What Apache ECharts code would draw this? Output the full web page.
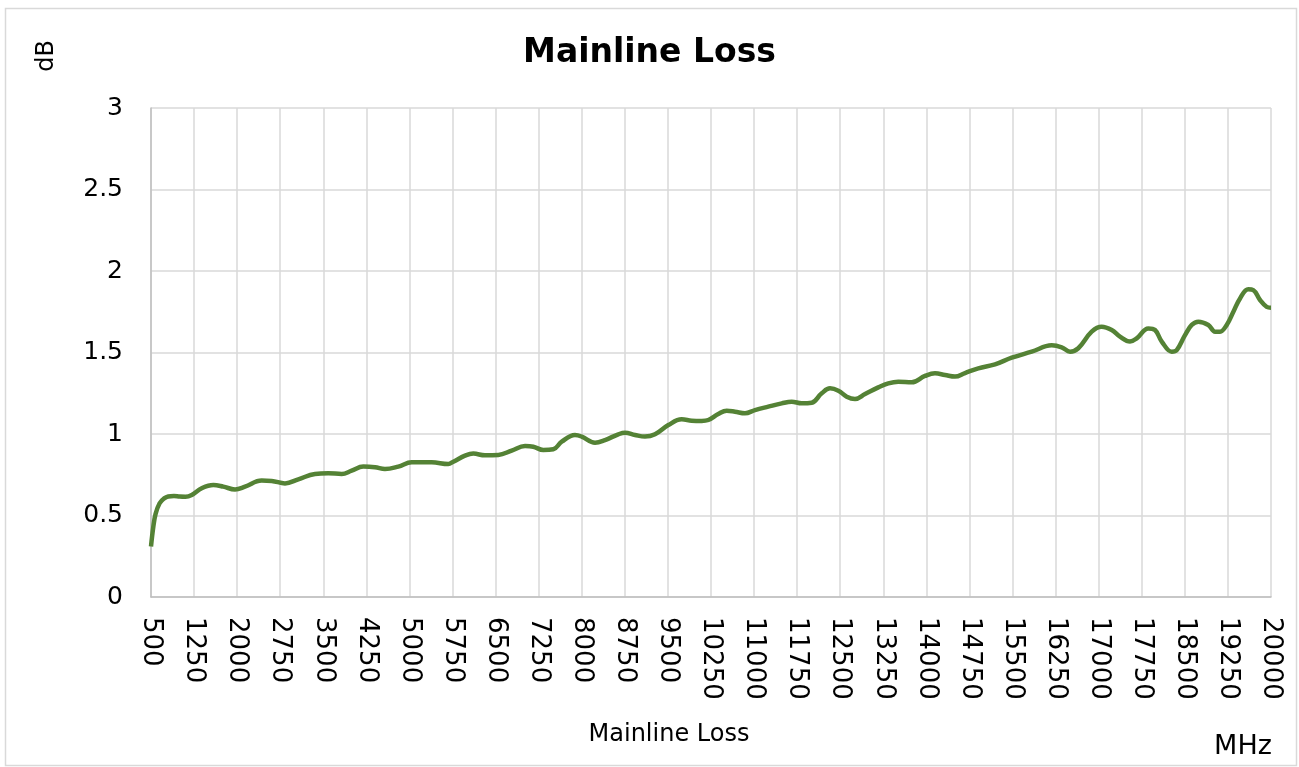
<!DOCTYPE html>
<html>
<head>
<meta charset="utf-8">
<script src="https://cdn.jsdelivr.net/npm/echarts@6/dist/echarts.min.js"></script>
<style>
html,body{margin:0;padding:0;background:#fff;}
#chart{width:1299px;height:767px;}
</style>
</head>
<body>
<div id="chart"></div>
<script>
const chartTitle = 'Mainline Loss';
const xAxisName = 'Mainline Loss';
const xUnit = 'MHz';
const yUnit = 'dB';

const freqMHz = [500, 540, 580, 650, 730, 800, 900, 1000, 1100, 1209, 1383, 1585, 1759, 1963, 2137, 2427, 2602, 2833, 3065, 3355, 3587, 3820, 3994, 4196, 4400, 4574, 4806, 5039, 5213, 5387, 5676, 5763, 5967, 6112, 6315, 6547, 6780, 7012, 7156, 7330, 7504, 7651, 7882, 7999, 8231, 8405, 8636, 8753, 8927, 9100, 9275, 9507, 9740, 9914, 10088, 10203, 10377, 10524, 10668, 10842, 11016, 11248, 11481, 11655, 11829, 12003, 12178, 12322, 12467, 12613, 12757, 12932, 13163, 13337, 13511, 13745, 13976, 14150, 14324, 14498, 14673, 14904, 15195, 15486, 15834, 16182, 16356, 16501, 16645, 16878, 17052, 17227, 17371, 17545, 17662, 17864, 17981, 18098, 18272, 18359, 18503, 18620, 18735, 18909, 19026, 19113, 19229, 19345, 19461, 19605, 19692, 19809, 19925, 20000];
const lossDB = [0.31, 0.43, 0.51, 0.575, 0.605, 0.617, 0.62, 0.616, 0.615, 0.626, 0.667, 0.687, 0.677, 0.66, 0.677, 0.714, 0.712, 0.697, 0.722, 0.755, 0.759, 0.755, 0.775, 0.8, 0.796, 0.785, 0.8, 0.826, 0.826, 0.826, 0.816, 0.83, 0.867, 0.88, 0.869, 0.871, 0.898, 0.926, 0.922, 0.902, 0.906, 0.953, 0.994, 0.984, 0.947, 0.963, 0.998, 1.008, 0.994, 0.984, 0.998, 1.055, 1.09, 1.082, 1.08, 1.086, 1.123, 1.143, 1.137, 1.127, 1.147, 1.168, 1.188, 1.198, 1.188, 1.192, 1.25, 1.28, 1.266, 1.229, 1.215, 1.245, 1.286, 1.311, 1.321, 1.317, 1.356, 1.372, 1.362, 1.352, 1.374, 1.403, 1.427, 1.468, 1.505, 1.544, 1.532, 1.505, 1.526, 1.628, 1.658, 1.638, 1.597, 1.567, 1.587, 1.648, 1.638, 1.567, 1.505, 1.515, 1.607, 1.669, 1.689, 1.669, 1.628, 1.628, 1.669, 1.75, 1.832, 1.888, 1.883, 1.822, 1.78, 1.775];

const xMin = 500, xMax = 20000, xStep = 750;
const yMin = 0, yMax = 3, yStep = 0.5;

const FONT = 'DejaVu Sans';
const seriesData = freqMHz.map((f, i) => [f, lossDB[i]]);

const chart = echarts.init(document.getElementById('chart'), null, {renderer: 'canvas'});
chart.setOption({
  animation: false,
  backgroundColor: '#ffffff',
  title: {
    text: chartTitle,
    left: 'center',
    top: 32,
    textStyle: {fontFamily: FONT, fontSize: 33, fontWeight: 'bold', color: '#000'}
  },
  grid: {left: 151, right: 28, top: 108, bottom: 170, containLabel: false},
  xAxis: {
    type: 'value',
    min: xMin, max: xMax, interval: xStep,
    axisLine: {show: true, lineStyle: {color: '#bfbfbf', width: 1.5}},
    axisTick: {show: false},
    splitLine: {show: true, lineStyle: {color: '#d9d9d9', width: 1.5}},
    axisLabel: {
      rotate: -90, margin: 20, color: '#000',
      fontFamily: FONT, fontSize: 26,
      showMinLabel: true, showMaxLabel: true,
      formatter: v => String(v)
    }
  },
  yAxis: {
    type: 'value',
    min: yMin, max: yMax, interval: yStep,
    axisLine: {show: true, lineStyle: {color: '#bfbfbf', width: 1.5}},
    axisTick: {show: false},
    splitLine: {show: true, lineStyle: {color: '#d9d9d9', width: 1.5}},
    axisLabel: {margin: 28, color: '#000', fontFamily: FONT, fontSize: 25}
  },
  series: [{
    type: 'line',
    data: seriesData,
    showSymbol: false,
    smooth: 0.4,
    lineStyle: {color: '#548235', width: 4.5},
    itemStyle: {color: '#548235'},
    z: 5
  }],
  graphic: [
    {type: 'rect', shape: {x: 5.5, y: 8.5, width: 1291, height: 757}, style: {fill: null, stroke: '#d9d9d9', lineWidth: 1.5}, silent: true, z: -10},
    {type: 'text', x: 47, y: 56, rotation: Math.PI / 2, style: {text: yUnit, fontFamily: FONT, fontSize: 24, fill: '#000', textAlign: 'center', textVerticalAlign: 'middle'}},
    {type: 'text', x: 669, y: 735, style: {text: xAxisName, fontFamily: FONT, fontSize: 24, fill: '#000', textAlign: 'center', textVerticalAlign: 'middle'}},
    {type: 'text', x: 1243, y: 747, style: {text: xUnit, fontFamily: FONT, fontSize: 27, fill: '#000', textAlign: 'center', textVerticalAlign: 'middle'}}
  ]
});
</script>
</body>
</html>
